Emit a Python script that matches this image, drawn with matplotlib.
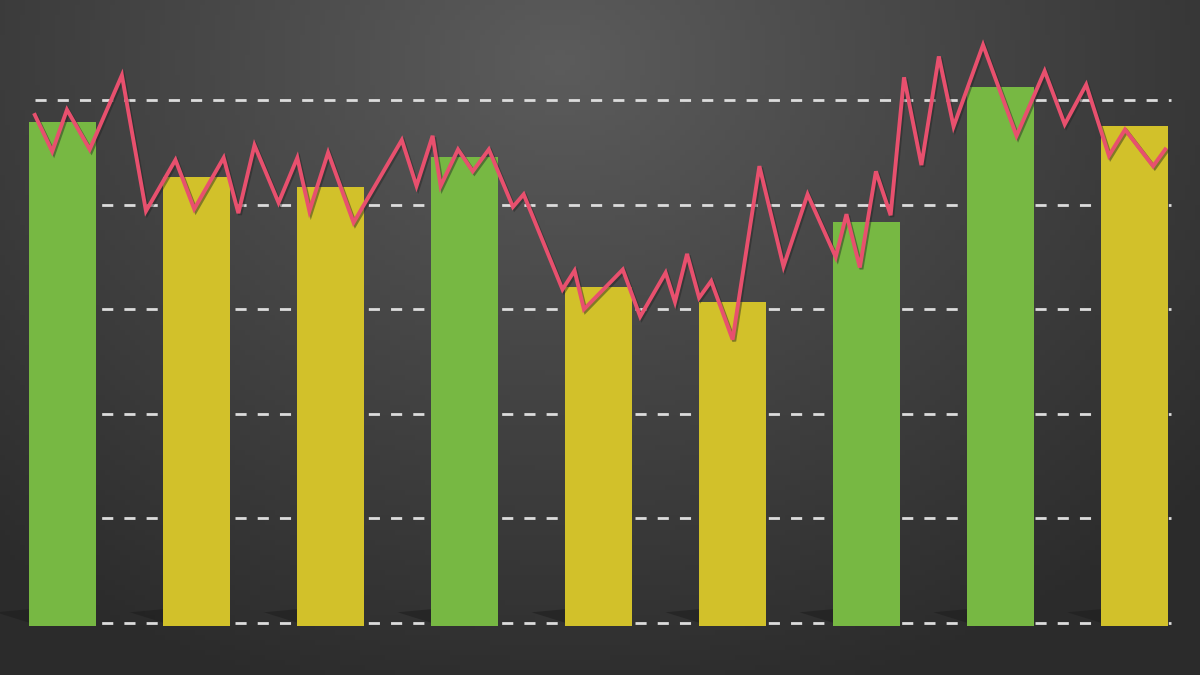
import numpy as np
import matplotlib
matplotlib.use("Agg")
import matplotlib.pyplot as plt
import matplotlib.patheffects as pe

bar_values = [4.82, 4.30, 4.20, 4.49, 3.24, 3.10, 3.87, 5.16, 4.78]
bar_colors = ["#77b843", "#d2c12a", "#d2c12a", "#77b843", "#d2c12a", "#d2c12a", "#77b843", "#77b843", "#d2c12a"]
line_x = [-0.21,-0.08,0.03,0.20,0.44,0.62,0.84,0.98,1.20,1.31,1.43,1.61,1.75,1.84,1.98,2.17,2.53,2.64,2.76,2.82,2.95,3.06,3.18,3.36,3.44,3.73,3.82,3.89,4.18,4.31,4.50,4.57,4.66,4.75,4.84,5.00,5.20,5.38,5.56,5.77,5.85,5.95,6.07,6.18,6.28,6.41,6.54,6.65,6.87,7.12,7.33,7.48,7.64,7.81,7.93,8.14,8.23]
line_y = [4.86,4.51,4.91,4.53,5.24,3.94,4.43,3.96,4.45,3.92,4.57,4.02,4.45,3.94,4.50,3.83,4.62,4.18,4.66,4.18,4.53,4.32,4.53,3.98,4.10,3.19,3.37,3.00,3.38,2.93,3.35,3.07,3.53,3.11,3.27,2.71,4.37,3.41,4.10,3.50,3.91,3.40,4.32,3.90,5.22,4.38,5.42,4.75,5.53,4.66,5.28,4.77,5.15,4.47,4.72,4.37,4.53]
grid_levels = [0, 1, 2, 3, 4, 5]

fig = plt.figure(figsize=(12, 6.75), dpi=100)
ax = fig.add_axes([0, 0, 1, 1])
xmin, xmax, ymin, ymax = -0.47, 8.49, -0.50, 5.96
W, H = 240, 135
xx, yy = np.meshgrid(np.linspace(0, 1200, W), np.linspace(0, 675, H))
d = np.sqrt(((xx - 560) / 900) ** 2 + ((yy - 60) / 700) ** 2)
v = np.clip(0.36 - 0.2 * d, 0.17, 0.36)
img = np.dstack([v, v, v])
ax.imshow(img, extent=[xmin, xmax, ymin, ymax], aspect="auto", zorder=0, origin="upper")

xs = np.arange(len(bar_values))
for x in xs:
    ax.fill([x - 0.5, x - 0.25, x - 0.25], [0.1, 0.13, 0.0], color="#1e1e1e", alpha=0.6, zorder=1, lw=0)
for lv in grid_levels:
    ax.plot([-0.21, 8.27], [lv, lv], color="#dcdcdc", lw=2, dashes=(4, 4), zorder=1.5)
ax.bar(xs, bar_values, width=0.5, color=bar_colors, zorder=2, bottom=-0.03)
ax.plot(line_x, line_y, color="#e8506e", lw=2.8, zorder=3, solid_joinstyle="miter",
        path_effects=[pe.SimpleLineShadow(offset=(1.2, -1.2), shadow_color="#222", alpha=0.45), pe.Normal()])
ax.set_xlim(xmin, xmax)
ax.set_ylim(ymin, ymax)
ax.axis("off")
fig.savefig("out.png", dpi=100)
